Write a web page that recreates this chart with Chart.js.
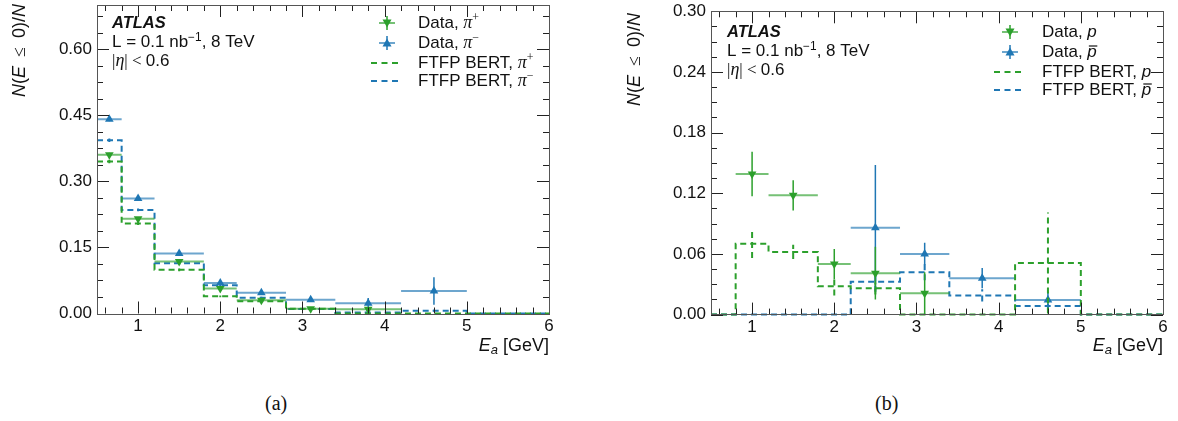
<!DOCTYPE html>
<html><head><meta charset="utf-8">
<script src="https://cdn.jsdelivr.net/npm/chart.js@4.4.1/dist/chart.umd.min.js"></script>
<style>
body{margin:0;background:#fff;width:1178px;height:421px;overflow:hidden;position:relative;}
canvas{position:absolute;top:0;}
#cA{left:0}
#cB{left:589px}
.cap{position:absolute;top:392px;font-family:"Liberation Serif","Times New Roman",serif;font-size:20px;color:#111;}
</style></head>
<body>
<canvas id="cA" width="589" height="360"></canvas>
<canvas id="cB" width="589" height="360"></canvas>
<div class="cap" style="left:265px">(a)</div>
<div class="cap" style="left:875px">(b)</div>
<script>
// ---------- data ----------
const binEdges = [0.5, 0.8, 1.2, 1.8, 2.2, 2.8, 3.4, 4.2, 5.0, 6.0];
const xTicks = [1, 2, 3, 4, 5, 6];
// panel (a): pions
const dataPiPlus   = [0.360, 0.215, 0.118, 0.057, 0.030, 0.011, 0.0095, null, null];
const errPiPlus    = [0.005, 0.004, 0.003, 0.003, 0.003, 0.003, 0.005, null, null];
const dataPiMinus  = [0.441, 0.261, 0.136, 0.069, 0.047, 0.031, 0.023, 0.051, null];
const errPiMinus   = [0.005, 0.004, 0.004, 0.004, 0.004, 0.005, 0.012, 0.031, null];
const mcPiPlus     = [0.345, 0.204, 0.099, 0.039, 0.028, 0.011, 0.0, 0.0, 0.0];
const mcErrPiPlus  = [0.004, 0.003, 0.003, 0.002, 0.002, 0.002, 0, 0, 0];
const mcPiMinus    = [0.393, 0.235, 0.114, 0.064, 0.036, 0.010, 0.002, 0.0065, 0.0];
const mcErrPiMinus = [0.004, 0.003, 0.003, 0.002, 0.002, 0.002, 0.001, 0.002, 0];
const yTicksA = [0, 0.15, 0.30, 0.45, 0.60];
// panel (b): protons
const dataP       = [null, 0.139, 0.118, 0.050, 0.041, 0.021, null, null, null];
const errP        = [null, 0.022, 0.015, 0.015, 0.026, 0.021, null, null, null];
const dataPbar    = [null, null, null, null, 0.086, 0.060, 0.036, 0.0145, null];
const errPbar     = [null, null, null, null, 0.062, 0.011, 0.010, 0.008, null];
const mcP         = [0, 0.070, 0.062, 0.028, 0.026, 0, 0, 0.051, 0];
const mcErrP      = [0, 0.014, 0.007, 0.009, 0.006, 0, 0, 0.050, 0];
const mcPbar      = [0, 0, 0, 0, 0.0325, 0.042, 0.019, 0.0085, 0];
const mcErrPbar   = [0, 0, 0, 0, 0.010, 0.008, 0.006, 0.004, 0];
const yTicksB = [0, 0.06, 0.12, 0.18, 0.24, 0.30];

// ---------- helpers ----------
const GREEN = '#2ca02c', BLUE = '#1f77b4';
const GREEN_L = 'rgba(44,160,44,0.65)', BLUE_L = 'rgba(31,119,180,0.65)';
const SANS = '"Liberation Sans", Arial, Helvetica, sans-serif';
const SERIF = '"Liberation Serif", "Times New Roman", serif';
const FS = 17;

const centers = binEdges.slice(0, -1).map((e, i) => (e + binEdges[i + 1]) / 2);

function histPoints(vals) {
  const pts = [];
  vals.forEach((v, i) => { pts.push({x: binEdges[i], y: v}); pts.push({x: binEdges[i + 1], y: v}); });
  return pts;
}
function xBarPoints(vals) {
  const pts = [];
  vals.forEach((v, i) => { if (v === null) return;
    pts.push({x: binEdges[i], y: v}); pts.push({x: binEdges[i + 1], y: v}); pts.push({x: binEdges[i + 1], y: null}); });
  return pts;
}
function yBarPoints(vals, errs) {
  const pts = [];
  vals.forEach((v, i) => { if (v === null || !errs[i]) return;
    pts.push({x: centers[i], y: Math.max(0, v - errs[i])}); pts.push({x: centers[i], y: v + errs[i]}); pts.push({x: centers[i], y: null}); });
  return pts;
}
function markerPoints(vals) {
  return vals.map((v, i) => v === null ? null : {x: centers[i], y: v}).filter(p => p);
}
function lineDS(pts, color, width, dash) {
  return {type: 'line', data: pts, borderColor: color, borderWidth: width, borderDash: dash || [],
          pointRadius: 0, fill: false, spanGaps: false, tension: 0, clip: false};
}
function markerDS(pts, color, down) {
  return {type: 'line', data: pts, showLine: false, pointStyle: 'triangle', pointRotation: down ? 180 : 0,
          pointRadius: 5, pointBackgroundColor: color, pointBorderColor: color, pointBorderWidth: 0, clip: false};
}
function seriesSets(data, err, mc, mcErr, color, light, down) {
  return [
    lineDS(histPoints(mc), color, 2, [6, 4]),
    lineDS(yBarPoints(mc, mcErr), color, 2, [6, 4]),
    lineDS(xBarPoints(data), light, 2),
    lineDS(yBarPoints(data, err), color, 1.5),
    markerDS(markerPoints(data), color, down)
  ];
}

function rich(ctx, x, y, segs, align) {
  let w = 0;
  segs.forEach(s => { ctx.font = s.f; s.w = ctx.measureText(s.t).width; w += s.w; });
  let cx = align === 'right' ? x - w : (align === 'center' ? x - w / 2 : x);
  segs.forEach(s => {
    ctx.font = s.f; ctx.fillText(s.t, cx, y + (s.dy || 0));
    if (s.bar) { ctx.save(); ctx.strokeStyle = ctx.fillStyle; ctx.lineWidth = 1.2; ctx.beginPath();
      ctx.moveTo(cx + 1.5, y - 6); ctx.lineTo(cx + s.w + 0.5, y - 6); ctx.stroke(); ctx.restore(); }
    cx += s.w;
  });
  return w;
}

const decorPlugin = {
  id: 'decor',
  afterDraw(chart, args, o) {
    const ctx = chart.ctx, a = chart.chartArea, xs = chart.scales.x, ys = chart.scales.y;
    ctx.save();
    // ticks (inward, all four sides)
    ctx.strokeStyle = '#222'; ctx.lineWidth = 1;
    ctx.beginPath();
    const eps = 1e-6;
    for (let v = 0.6; v <= 6 + eps; v += 0.2) {
      const major = Math.abs(v - Math.round(v)) < eps;
      const L = major ? 12 : 6;
      const px = Math.round(xs.getPixelForValue(v)) + 0.5;
      ctx.moveTo(px, a.bottom); ctx.lineTo(px, a.bottom - L);
      ctx.moveTo(px, a.top); ctx.lineTo(px, a.top + L);
    }
    for (let k = 0; k * o.yMinor <= o.yMax + eps; k++) {
      const v = k * o.yMinor;
      const major = k % 4 === 0;
      const L = major ? 12 : 6;
      const py = Math.round(ys.getPixelForValue(v)) + 0.5;
      ctx.moveTo(a.left, py); ctx.lineTo(a.left + L, py);
      ctx.moveTo(a.right, py); ctx.lineTo(a.right - L, py);
    }
    ctx.stroke();
    // frame
    ctx.strokeStyle = '#555'; ctx.lineWidth = 1;
    ctx.strokeRect(Math.round(a.left) + 0.5, Math.round(a.top) + 0.5, Math.round(a.right - a.left), Math.round(a.bottom - a.top));

    ctx.fillStyle = '#111'; ctx.textBaseline = 'middle';
    // ATLAS label block
    const ax = o.atlas[0], ay = o.atlas[1];
    rich(ctx, ax, ay, [{t: 'ATLAS', f: `italic bold 16.5px ${SANS}`}]);
    rich(ctx, ax, ay + 19.5, [
      {t: 'L = 0.1 nb', f: `${FS}px ${SANS}`},
      {t: '\u22121', f: `${FS * 0.7}px ${SANS}`, dy: -5},
      {t: ', 8 TeV', f: `${FS}px ${SANS}`}]);
    rich(ctx, ax, ay + 38.5, [
      {t: '|', f: `${FS}px ${SERIF}`},
      {t: '\u03b7', f: `italic ${FS + 1}px ${SERIF}`},
      {t: '| < ', f: `${FS}px ${SERIF}`},
      {t: '0.6', f: `${FS}px ${SANS}`}]);
    // legend
    o.legend.forEach((e, i) => {
      const y = o.legRows[i], mx = o.legMarkX;
      if (e.kind === 'data') {
        ctx.strokeStyle = e.light; ctx.lineWidth = 2;
        ctx.beginPath(); ctx.moveTo(mx - 8, y); ctx.lineTo(mx + 8, y); ctx.stroke();
        ctx.strokeStyle = e.color; ctx.lineWidth = 1.5;
        ctx.beginPath(); ctx.moveTo(mx, y - 7); ctx.lineTo(mx, y + 7); ctx.stroke();
        ctx.fillStyle = e.color; ctx.beginPath();
        if (e.down) { ctx.moveTo(mx - 4.5, y - 3.5); ctx.lineTo(mx + 4.5, y - 3.5); ctx.lineTo(mx, y + 4.5); }
        else { ctx.moveTo(mx - 4.5, y + 3.5); ctx.lineTo(mx + 4.5, y + 3.5); ctx.lineTo(mx, y - 4.5); }
        ctx.closePath(); ctx.fill();
      } else {
        ctx.strokeStyle = e.color; ctx.lineWidth = 2; ctx.setLineDash([6, 4.5]);
        ctx.beginPath(); ctx.moveTo(mx - 16, y); ctx.lineTo(mx + 12, y); ctx.stroke(); ctx.setLineDash([]);
      }
      ctx.fillStyle = '#111';
      rich(ctx, o.legTextX, y, e.segs);
    });
    // y-axis title (rotated)
    ctx.save();
    ctx.translate(o.yTitle[0], o.yTitle[1]); ctx.rotate(-Math.PI / 2);
    rich(ctx, 0, 0, [
      {t: 'N', f: `italic 18px ${SANS}`},
      {t: '(', f: `18px ${SANS}`},
      {t: 'E', f: `italic 18px ${SANS}`},
      {t: '\u2002\u2264\u2002', f: `18px ${SERIF}`},
      {t: '0)/', f: `18px ${SANS}`},
      {t: 'N', f: `italic 18px ${SANS}`}], 'right');
    ctx.restore();
    // x-axis title
    rich(ctx, a.right, 346, [
      {t: 'E', f: `italic 18px ${SANS}`},
      {t: 'a', f: `italic 13px ${SANS}`, dy: 4},
      {t: ' [GeV]', f: `18px ${SANS}`}], 'right');
    ctx.restore();
  }
};

function legendSegs(pre, sym, sup, bar) {
  const s = [{t: pre, f: `${FS}px ${SANS}`}];
  if (sym === 'pi') { s.push({t: '\u03c0', f: `italic ${FS + 1}px ${SERIF}`}); s.push({t: sup, f: `${FS * 0.7}px ${SERIF}`, dy: -5}); }
  else s.push({t: 'p', f: `italic ${FS}px ${SANS}`, bar: bar});
  return s;
}

function makeChart(id, sets, yTicks, yMax, layout, decor) {
  return new Chart(document.getElementById(id), {
    data: {datasets: sets},
    options: {
      responsive: false, animation: false, events: [],
      layout: {padding: layout.pad},
      plugins: {legend: {display: false}, tooltip: {enabled: false}, decor: decor},
      scales: {
        x: {type: 'linear', min: 0.5, max: 6, grid: {display: false, drawTicks: false}, border: {display: false},
            afterBuildTicks: s => { s.ticks = xTicks.map(v => ({value: v})); },
            afterFit: s => { s.height = layout.xh; s.paddingLeft = 0; s.paddingRight = 0; s.paddingTop = 0; s.paddingBottom = 0; },
            ticks: {padding: 3, color: '#111', font: {family: SANS, size: FS}, callback: v => String(v)}},
        y: {type: 'linear', min: 0, max: yMax, grid: {display: false, drawTicks: false}, border: {display: false},
            afterBuildTicks: s => { s.ticks = yTicks.map(v => ({value: v})); },
            afterFit: s => { s.width = layout.yw; s.paddingTop = 0; s.paddingBottom = 0; s.paddingLeft = 0; s.paddingRight = 0; },
            ticks: {padding: 5, color: '#111', font: {family: SANS, size: FS}, callback: v => Number(v).toFixed(2)}}
      }
    },
    plugins: [decorPlugin]
  });
}

makeChart('cA',
  [...seriesSets(dataPiPlus, errPiPlus, mcPiPlus, mcErrPiPlus, GREEN, GREEN_L, true),
   ...seriesSets(dataPiMinus, errPiMinus, mcPiMinus, mcErrPiMinus, BLUE, BLUE_L, false)],
  yTicksA, 0.7,
  {pad: {left: 0, right: 40, top: 3.4, bottom: 0}, xh: 46.5, yw: 97},
  {yMax: 0.7, yMinor: 0.0375, atlas: [112, 23], legMarkX: 387, legTextX: 418, legRows: [23, 43, 63, 81],
   yTitle: [20, 4],
   legend: [
     {kind: 'data', color: GREEN, light: GREEN_L, down: true, segs: legendSegs('Data, ', 'pi', '+')},
     {kind: 'data', color: BLUE, light: BLUE_L, down: false, segs: legendSegs('Data, ', 'pi', '\u2212')},
     {kind: 'mc', color: GREEN, segs: legendSegs('FTFP BERT, ', 'pi', '+')},
     {kind: 'mc', color: BLUE, segs: legendSegs('FTFP BERT, ', 'pi', '\u2212')}]});

makeChart('cB',
  [...seriesSets(dataP, errP, mcP, mcErrP, GREEN, GREEN_L, true),
   ...seriesSets(dataPbar, errPbar, mcPbar, mcErrPbar, BLUE, BLUE_L, false)],
  yTicksB, 0.3,
  {pad: {left: 0, right: 15, top: 11.3, bottom: 0}, xh: 45.4, yw: 122},
  {yMax: 0.3, yMinor: 0.015, atlas: [138, 32], legMarkX: 421, legTextX: 453, legRows: [32, 52, 72, 90],
   yTitle: [46, 13],
   legend: [
     {kind: 'data', color: GREEN, light: GREEN_L, down: true, segs: legendSegs('Data, ', 'p', '', false)},
     {kind: 'data', color: BLUE, light: BLUE_L, down: false, segs: legendSegs('Data, ', 'p', '', true)},
     {kind: 'mc', color: GREEN, segs: legendSegs('FTFP BERT, ', 'p', '', false)},
     {kind: 'mc', color: BLUE, segs: legendSegs('FTFP BERT, ', 'p', '', true)}]});
</script>
</body></html>
